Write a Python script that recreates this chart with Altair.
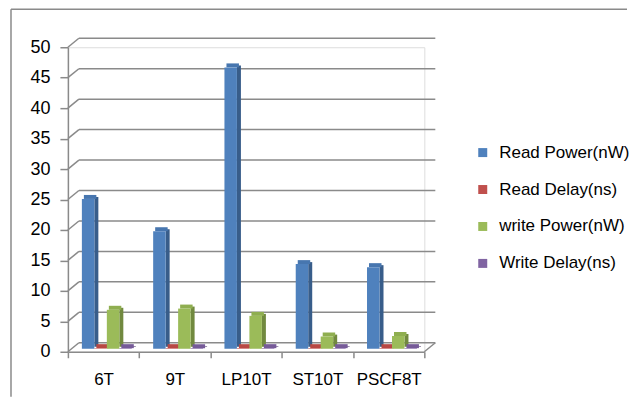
import altair as alt
import pandas as pd

categories = ["6T", "9T", "LP10T", "ST10T", "PSCF8T"]
series = ["Read Power(nW)", "Read Delay(ns)", "write Power(nW)", "Write Delay(ns)"]
read_power = [24.6, 19.3, 46.2, 13.9, 13.4]
read_delay = [0.1, 0.1, 0.1, 0.1, 0.1]
write_power = [6.4, 6.6, 5.4, 2.0, 2.1]
write_delay = [0.1, 0.1, 0.1, 0.1, 0.1]
y_ticks = [0, 5, 10, 15, 20, 25, 30, 35, 40, 45, 50]
front_colors = ["#4F81BD", "#C0504D", "#9BBB59", "#8064A2"]
top_colors = ["#4776AF", "#B84844", "#8FAE50", "#765B98"]
side_colors = ["#385D8A", "#8C3836", "#71893F", "#5C4776"]

rows = []
for s, vals in zip(series, [read_power, read_delay, write_power, write_delay]):
    for c, v in zip(categories, vals):
        rows.append({"cat": c, "series": s, "value": v})
df = pd.DataFrame(rows)
grid_df = pd.DataFrame({"tick": y_ticks})
one = pd.DataFrame({"a": [0]})

W, H = 357, 305
DX, DY = 11, 9
FONT = "Liberation Sans"
GRAY = "#8a8a8a"

yscale = alt.Scale(domain=[0, 50], nice=False, zero=True)
xscale = alt.Scale(domain=categories, paddingInner=0, paddingOuter=0)

y_axis = alt.Axis(title=None, values=y_ticks, grid=False, tickSize=8, labelPadding=10,
                  labelFontSize=18, labelFont=FONT, labelColor="#000000",
                  domainColor=GRAY, tickColor=GRAY, domainWidth=1.5, tickWidth=1.5)
x_axis = alt.Axis(title=None, labelAngle=0, tickBand="extent", tickSize=6, labelPadding=14,
                  labelFontSize=17, labelFont=FONT, labelColor="#000000",
                  domainColor=GRAY, tickColor=GRAY, domainWidth=1.5, tickWidth=1.5)

frame_top = alt.Chart(one).mark_rule(color=GRAY, strokeWidth=1.5).encode(
    x=alt.value(-57), x2=alt.value(W + 203), y=alt.value(-38)
)
frame_left = alt.Chart(one).mark_rule(color=GRAY, strokeWidth=1.5).encode(
    x=alt.value(-57), y=alt.value(-38), y2=alt.value(H + 45)
)

grid_back = alt.Chart(grid_df).mark_rule(color=GRAY, strokeWidth=1.5, yOffset=-DY, y2Offset=-DY).encode(
    y=alt.Y("tick:Q", scale=yscale, axis=y_axis),
    x=alt.value(DX), x2=alt.value(W + DX)
)
grid_side = alt.Chart(grid_df).mark_rule(color=GRAY, strokeWidth=1.5, y2Offset=-DY).encode(
    y=alt.Y("tick:Q", scale=yscale, axis=y_axis),
    y2="tick:Q",
    x=alt.value(0), x2=alt.value(DX)
)
floor_right = alt.Chart(grid_df).transform_filter("datum.tick == 0").mark_rule(
    color=GRAY, strokeWidth=1.5, y2Offset=-DY
).encode(
    y=alt.Y("tick:Q", scale=yscale, axis=y_axis),
    y2="tick:Q",
    x=alt.value(W), x2=alt.value(W + DX)
)

side = alt.Chart(df).mark_bar(yOffset=-5, y2Offset=-5).encode(
    x=alt.X("cat:N", sort=categories, scale=xscale, axis=x_axis),
    xOffset=alt.XOffset("series:N",
                        scale=alt.Scale(domain=["_pad"] + series, paddingInner=0.68,
                                        paddingOuter=0.696, align=0.805)),
    y=alt.Y("value:Q", scale=yscale, axis=y_axis),
    color=alt.Color("series:N", sort=series, scale=alt.Scale(domain=series, range=side_colors), legend=None),
)

top = alt.Chart(df).mark_bar(yOffset=-3, y2Offset=-7).encode(
    x=alt.X("cat:N", sort=categories, scale=xscale, axis=x_axis),
    xOffset=alt.XOffset("series:N",
                        scale=alt.Scale(domain=series, paddingInner=0, paddingOuter=0.856, align=0.748)),
    y=alt.Y("value:Q", scale=yscale, axis=y_axis),
    y2="value:Q",
    color=alt.Color("series:N", sort=series, scale=alt.Scale(domain=series, range=top_colors), legend=None),
)

front = alt.Chart(df).mark_bar(yOffset=-3, y2Offset=-3).encode(
    x=alt.X("cat:N", sort=categories, scale=xscale, axis=x_axis),
    xOffset=alt.XOffset("series:N", sort=series,
                        scale=alt.Scale(domain=series, paddingInner=0, paddingOuter=0.856, align=0.654)),
    y=alt.Y("value:Q", scale=yscale, axis=y_axis),
    color=alt.Color("series:N", sort=series, scale=alt.Scale(domain=series, range=front_colors),
                    legend=alt.Legend(title=None, orient="none", legendX=407, legendY=97,
                                      symbolType="square", symbolSize=81, symbolStrokeWidth=0,
                                      labelFontSize=17, labelFont=FONT, labelColor="#000000",
                                      rowPadding=19, labelOffset=8, padding=0)),
)

chart = alt.layer(frame_top, frame_left, grid_side, grid_back, floor_right, side, top, front).resolve_scale(
    color="independent", xOffset="independent"
).properties(
    width=W, height=H, padding={"left": 2, "top": 0, "right": 0, "bottom": 0}
).configure_view(stroke=None).configure(background="white")

chart.save("out.html", embed_options={"renderer": "svg", "actions": False})
